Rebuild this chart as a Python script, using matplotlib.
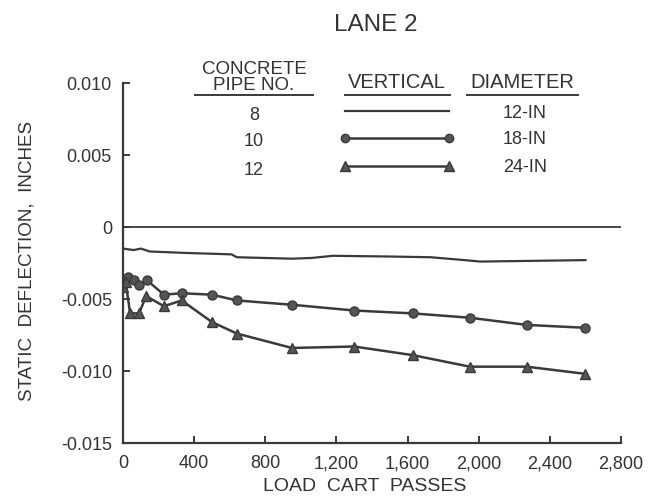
import matplotlib
matplotlib.use("Agg")
import matplotlib.pyplot as plt
from matplotlib.lines import Line2D

plt.rcParams['font.family'] = ['Liberation Sans', 'DejaVu Sans']

# ---- data ----
pipe8_x = [0, 60, 100, 150, 350, 610, 640, 950, 1060, 1180, 1500, 1730, 1920, 2010, 2600]
pipe8_y = [-0.0015, -0.0016, -0.0015, -0.0017, -0.0018, -0.0019, -0.0021, -0.0022,
           -0.00215, -0.0020, -0.00205, -0.0021, -0.0023, -0.0024, -0.0023]

pipe10_x = [0, 30, 60, 90, 135, 230, 330, 500, 640, 950, 1300, 1630, 1950, 2270, 2600]
pipe10_y = [-0.0037, -0.0035, -0.0037, -0.0040, -0.0037, -0.0047, -0.0046, -0.0047,
            -0.0051, -0.0054, -0.0058, -0.0060, -0.0063, -0.0068, -0.0070]

pipe12_x = [0, 15, 40, 90, 130, 230, 330, 500, 640, 950, 1300, 1630, 1950, 2270, 2600]
pipe12_y = [-0.0042, -0.0038, -0.0060, -0.0060, -0.0048, -0.0055, -0.0051, -0.0066,
            -0.0074, -0.0084, -0.0083, -0.0089, -0.0097, -0.0097, -0.0102]

x_ticks = [0, 400, 800, 1200, 1600, 2000, 2400, 2800]
x_tick_labels = ['0', '400', '800', '1,200', '1,600', '2,000', '2,400', '2,800']
y_ticks = [-0.015, -0.010, -0.005, 0, 0.005, 0.010]
y_tick_labels = ['-0.015', '-0.010', '-0.005', '0', '0.005', '0.010']

legend_nos = ['8', '10', '12']
legend_diams = ['12-IN', '18-IN', '24-IN']

# ---- style ----
C = '#3a3a3a'
TXT = '#333333'
W, H = 661, 498

fig = plt.figure(figsize=(6.61, 4.98), dpi=100)
ax = fig.add_axes([123 / W, 1 - 443 / H, (621 - 123) / W, (443 - 83) / H])

ax.axhline(0, color=C, lw=1.3)
ax.plot(pipe8_x, pipe8_y, color=C, lw=1.6)
ax.plot(pipe10_x, pipe10_y, color=C, lw=1.8, marker='o', ms=6.5,
        mfc='#555555', mec=C, mew=1.0)
ax.plot(pipe12_x, pipe12_y, color=C, lw=1.8, marker='^', ms=7,
        mfc='#555555', mec=C, mew=1.0)

ax.set_xlim(0, 2800)
ax.set_ylim(-0.015, 0.010)
ax.set_xticks(x_ticks)
ax.set_xticklabels(x_tick_labels)
ax.set_yticks(y_ticks)
ax.set_yticklabels(y_tick_labels)
for s in ['top', 'right']:
    ax.spines[s].set_visible(False)
for s in ['left', 'bottom']:
    ax.spines[s].set_color(C)
    ax.spines[s].set_linewidth(1.6)
ax.tick_params(direction='in', length=5, width=1.4, color=C, labelcolor=TXT,
               labelsize=13, pad=9)
ax.tick_params(axis='y', pad=8)

ax.set_xlabel('LOAD  CART  PASSES', fontsize=14, color=TXT)
ax.set_ylabel('STATIC  DEFLECTION,  INCHES', fontsize=13.6, color=TXT)
ax.xaxis.set_label_coords(0.486, -0.098)
ax.yaxis.set_label_coords(-0.175, 0.505)

def ft(x, y, s, size=12.5, ha='center'):
    fig.text(x / W, 1 - y / H, s, fontsize=size, color=TXT, ha=ha, va='center')

def fline(x0, x1, y, **kw):
    fig.add_artist(Line2D([x0 / W, x1 / W], [1 - y / H, 1 - y / H],
                          transform=fig.transFigure, color=C, **kw))

ft(376, 25, 'LANE 2', size=17.5)
ft(254, 69, 'CONCRETE', size=13.5)
ft(254, 85.5, 'PIPE NO.', size=13.5)
ft(397, 82, 'VERTICAL', size=14.5)
ft(522, 82, 'DIAMETER', size=14.5)
fline(195, 313, 95, lw=1.4)
fline(345, 450, 95, lw=1.4)
fline(467, 578, 95, lw=1.4)

rows_y = [113, 140, 168]
for no, d, yy in zip(legend_nos, legend_diams, rows_y):
    ft(254, yy + 2, no, size=13)
    ft(525, yy, d, size=13)
fline(345, 449, 111, lw=1.6)
fline(345, 449, 138, lw=1.8, marker='o', ms=6, mfc='#555555', mec=C)
fline(345, 449, 166, lw=1.8, marker='^', ms=6.5, mfc='#555555', mec=C)

fig.savefig('out.png', dpi=100)
